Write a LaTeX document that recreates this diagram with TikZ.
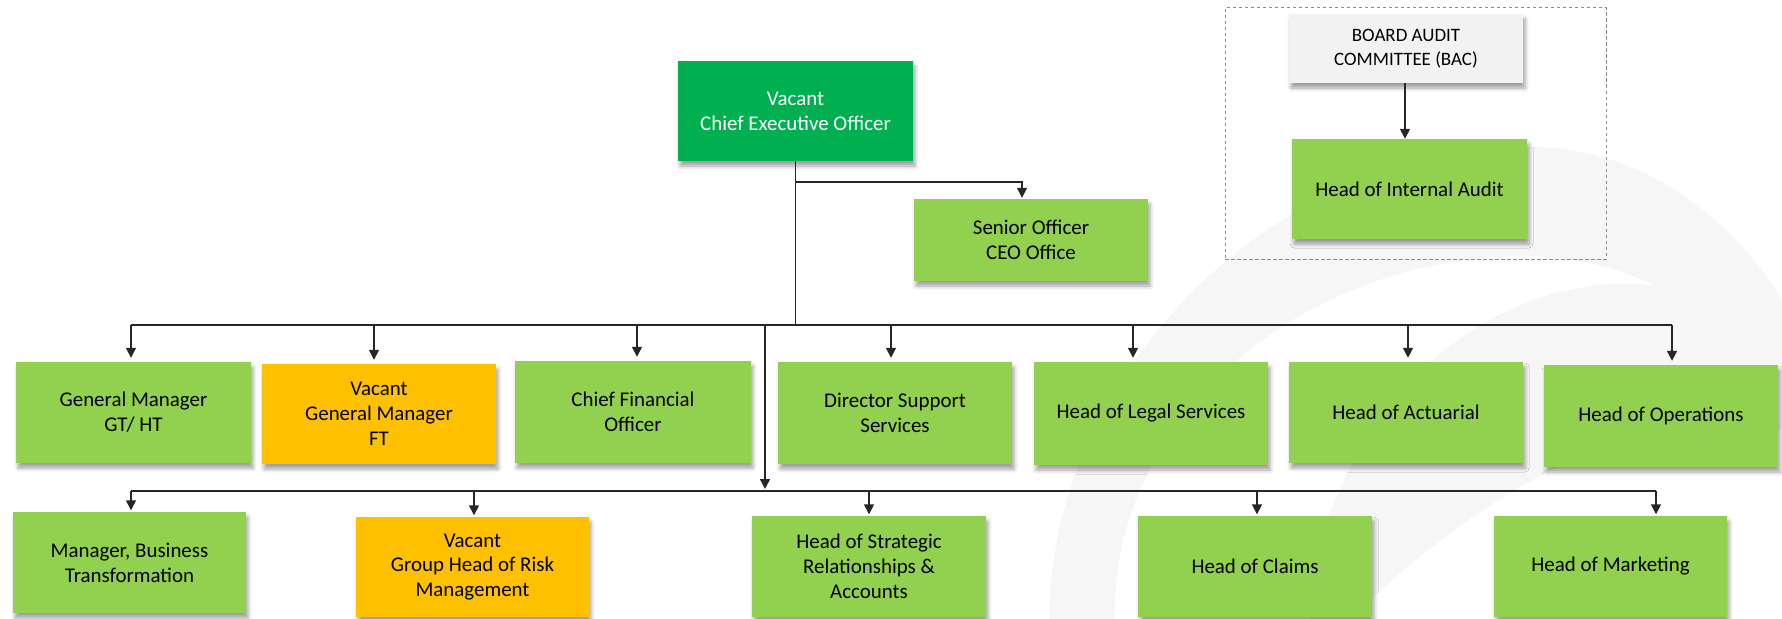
\documentclass[tikz,border=0pt]{standalone}
\usepackage{fontspec}
\setmainfont{Carlito}
\usetikzlibrary{arrows.meta,shadows.blur}
\definecolor{lgreen}{HTML}{92D050}
\definecolor{dgreen}{HTML}{00B050}
\definecolor{orng}{HTML}{FFC000}
\definecolor{lgray}{HTML}{F2F2F2}
\definecolor{lncol}{HTML}{262626}
\definecolor{wmark}{HTML}{F6F6F6}
\tikzset{
  box/.style={rectangle, minimum width=234bp, minimum height=101bp, inner sep=0pt,
    align=center, font=\fontsize{21}{25}\selectfont, text=black, fill=lgreen,
    blur shadow={shadow xshift=2bp, shadow yshift=-5bp, shadow blur radius=4bp, shadow opacity=38}},
  vacbox/.style={box, fill=orng},
  ceobox/.style={box, fill=dgreen, text=white},
  bacbox/.style={box, fill=lgray, font=\fontsize{19}{23.5}\selectfont},
  grpbox/.style={rectangle, draw=black!45, line width=1bp, dash pattern=on 3.5bp off 2.5bp, inner sep=0pt},
  conn/.style={draw=lncol, line width=1.5bp},
  arr/.style={conn, -{Triangle[width=10bp,length=10bp]}},
}
\begin{document}
\begin{tikzpicture}[x=1bp,y=-1bp]
\useasboundingbox (0,0) rectangle (1782,619);
% watermark
\fill[wmark] (1050,619) .. controls (1045,400) and (1250,150) .. (1526,147)
   .. controls (1650,145) and (1740,230) .. (1782,300) -- (1782,390)
   .. controls (1730,320) and (1640,258) .. (1530,256)
   .. controls (1300,255) and (1110,420) .. (1115,619) -- cycle;
\fill[wmark] (1309,619) .. controls (1320,440) and (1450,300) .. (1600,285)
   .. controls (1680,278) and (1740,300) .. (1782,340) -- (1782,430)
   .. controls (1650,400) and (1500,480) .. (1370,600) -- (1370,619) -- cycle;

% audit group
\node[grpbox, minimum width=381bp, minimum height=251bp] (grp) at (1415.5,133.5) {};
\node[bacbox, minimum height=69bp] (bac) at (1406,48.5) {BOARD AUDIT\\COMMITTEE (BAC)};
\node[box, minimum width=235bp, minimum height=100bp] (hia) at (1409.5,189) {Head of Internal Audit};

% top
\node[ceobox, minimum width=235bp, minimum height=100bp] (ceo) at (795.5,111) {Vacant\\Chief Executive Officer};
\node[box, minimum height=82bp] (sen) at (1031,240) {Senior Officer\\CEO Office};

% row 1
\node[box, minimum width=235bp] (gm) at (133.5,412.5) {General Manager\\GT/ HT};
\node[vacbox, minimum height=100bp] (vgm) at (379,414) {Vacant\\General Manager\\FT};
\node[box, minimum width=236bp, minimum height=102bp] (cfo) at (633,412) {Chief Financial\\Officer};
\node[box, minimum height=102bp] (dss) at (895,413) {Director Support\\Services};
\node[box, minimum height=103bp] (hls) at (1151,413.5) {Head of Legal Services};
\node[box] (hac) at (1406,412.5) {Head of Actuarial};
\node[box, minimum height=102bp] (hop) at (1661,416) {Head of Operations};

% row 2
\node[box, minimum width=233bp] (mbt) at (129.5,562.5) {Manager, Business\\Transformation};
\node[vacbox, minimum width=233bp, minimum height=100bp] (vgr) at (472.5,567) {Vacant\\Group Head of Risk\\Management};
\node[box] (hsr) at (869,566.5) {Head of Strategic\\Relationships \&\\Accounts};
\node[box] (hcl) at (1255,566.5) {Head of Claims};
\node[box, minimum width=233bp] (hmk) at (1610.5,566.5) {Head of Marketing};

% connectors
\coordinate (b1) at (796,325);
\coordinate (s1) at (796,182);
\coordinate (f1) at (765,325);
\coordinate (b2) at (765,491);

\draw[arr] ([xshift=-1bp]bac.south) -- ([xshift=-1bp]bac.south |- hia.north);

\draw[conn] (ceo.south) -- (ceo.south |- b1);
\draw[arr, shorten >=1bp] (s1) -| ([xshift=-9bp]sen.north);

\draw[conn] ([xshift=-2.5bp]gm.north |- b1) -- ([xshift=11bp]hop.north |- b1);
\foreach \n/\d in {gm/-2.5, vgm/-5, cfo/4, dss/-4, hls/-18, hac/2, hop/11}{
  \draw[arr, shorten >=4bp] ([xshift=\d bp]\n.north |- b1) -- ([xshift=\d bp]\n.north);
}

\draw[arr, shorten >=2bp] (f1) -- (b2);
\draw[conn] ([xshift=1.5bp]mbt.north |- b2) -- ([xshift=45.5bp]hmk.north |- b2);
\foreach \n/\d in {mbt/1.5, vgr/1.5, hsr/0, hcl/2, hmk/45.5}{
  \draw[arr, shorten >=1.5bp] ([xshift=\d bp]\n.north |- b2) -- ([xshift=\d bp]\n.north);
}
\end{tikzpicture}
\end{document}
